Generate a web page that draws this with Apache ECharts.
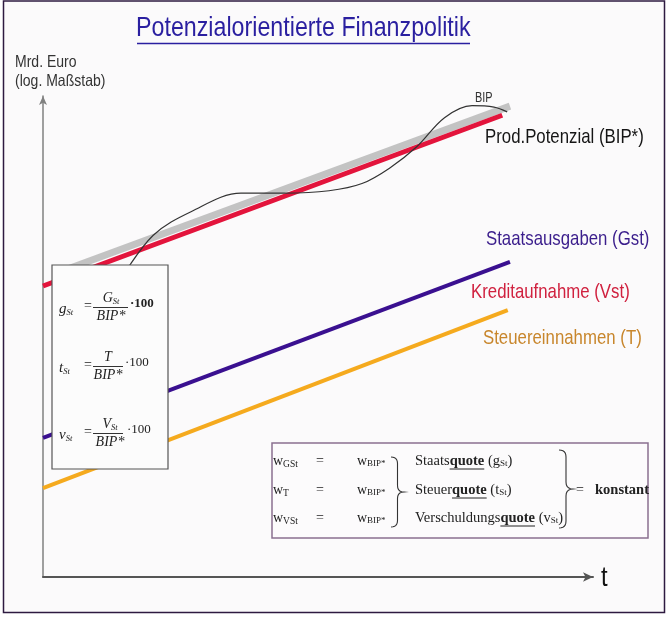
<!DOCTYPE html>
<html><head><meta charset="utf-8">
<script src="https://cdn.jsdelivr.net/npm/echarts@6/dist/echarts.min.js"></script>
<style>html,body{margin:0;padding:0;background:#fff}#c{width:668px;height:617px}</style>
</head><body><div id="c"></div>
<script>
// ---- data (time index 0..100, value index on log scale 0..100) ----
const trendBIP  = [[3, 63.4], [84.9, 97.9]];
const potential = [[0, 60.5], [83.5, 96.0]];
const spending  = [[0, 28.9], [84.9, 65.5]];
const taxes     = [[0, 18.5], [84.5, 55.5]];
const bip = [[14.0,61.7],[20.0,71.0],[27.0,76.0],[36.0,79.8],[44.0,79.8],[52.0,80.3],[58.0,81.8],[63.0,85.0],
  [68.0,89.5],[73.0,95.5],[78.0,98.0],[82.0,97.7],[84.4,96.7]];
const titleText = 'Potenzialorientierte Finanzpolitik';
const yAxisTitle = ['Mrd. Euro', '(log. Maßstab)'];
const xAxisTitle = 't';
const seriesLabels = ['Prod.Potenzial (BIP*)', 'Staatsausgaben (Gst)', 'Kreditaufnahme (Vst)', 'Steuereinnahmen (T)'];
const quoteSubs = ['GSt', 'T', 'VSt'];
const quotePrefix = ['Staats', 'Steuer', 'Verschuldungs'];
const quoteVar = ['g', 't', 'v'];

// ---- helpers ----
const SERIF = '"Liberation Serif","Times New Roman",serif';
const SANS = '"Liberation Sans",Arial,sans-serif';
const mctx = document.createElement('canvas').getContext('2d');
function fnt(size, style, weight, fam){ return (style||'normal')+' '+(weight||'normal')+' '+size+'px '+(fam||SERIF); }
function mw(t, font){ mctx.font = font; return mctx.measureText(t).width; }
const els = [];
function T(x, y, text, font, fill, z, extra){
  const e = {type:'text', x:x, y:y, z:z||50, silent:true,
    style:{text:text, x:0, y:0, font:font, fill:fill||'#222', textAlign:'left', textVerticalAlign:'middle', align:'left', verticalAlign:'middle'}};
  Object.assign(e, extra||{});
  els.push(e); return e;
}
function L(x1,y1,x2,y2,stroke,w,z){ els.push({type:'line', z:z||50, silent:true, shape:{x1,y1,x2,y2}, style:{stroke:stroke, lineWidth:w}}); }
function partsWidth(parts){ let w=0; for(const p of parts){ w+=mw(p.t, fnt(p.size,p.style,p.weight,p.fam)); } return w; }
function runs(x, y, parts, z){
  let cx = x;
  for(const p of parts){
    const f = fnt(p.size,p.style,p.weight,p.fam);
    T(cx, y+(p.dy||0), p.t, f, p.fill||'#222', z);
    const w = mw(p.t, f);
    if(p.u) L(cx, y+p.u, cx+w, y+p.u, '#222', 1, z);
    cx += w;
  }
  return cx;
}
function q(p0,c,p1,n){ const a=[]; for(let i=0;i<=n;i++){const t=i/n; a.push([(1-t)*(1-t)*p0[0]+2*(1-t)*t*c[0]+t*t*p1[0], (1-t)*(1-t)*p0[1]+2*(1-t)*t*c[1]+t*t*p1[1]]);} return a; }
function brace(x0,y0,y1,w,z){
  const m=(y0+y1)/2, h=w/2;
  const pts=[].concat(q([x0,y0],[x0+h,y0],[x0+h,y0+h],6), [[x0+h,m-h]], q([x0+h,m-h],[x0+h,m],[x0+w,m],5),
    q([x0+w,m],[x0+h,m],[x0+h,m+h],5), [[x0+h,y1-h]], q([x0+h,y1-h],[x0+h,y1],[x0,y1],6));
  els.push({type:'polyline', z:z, silent:true, shape:{points:pts}, style:{stroke:'#333', lineWidth:1.1, fill:null}});
}

// ---- frame & titles ----
els.push({type:'rect', z:-5, silent:true, shape:{x:3.5, y:1, width:661, height:611.5}, style:{fill:'#fbfafb', stroke:'#2e1a40', lineWidth:1.5}});
T(136, 28, titleText, fnt(28,null,null,SANS), '#2a1fa0', 5, {scaleX:0.83});
L(137, 43.5, 470, 43.5, '#2a1fa0', 1.5, 5);
T(15, 62, yAxisTitle[0], fnt(16.5,null,null,SANS), '#333', 5, {scaleX:0.85});
T(15, 81, yAxisTitle[1], fnt(16.5,null,null,SANS), '#333', 5, {scaleX:0.85});
T(601, 578, xAxisTitle, fnt(28,null,null,SANS), '#111', 5, {scaleX:0.85});
T(475, 98, 'BIP', fnt(14,null,null,SANS), '#333', 5, {scaleX:0.78});
T(485, 137, seriesLabels[0], fnt(21,null,null,SANS), '#151515', 5, {scaleX:0.8});
T(486, 239, seriesLabels[1], fnt(21,null,null,SANS), '#3b1e8c', 5, {scaleX:0.8});
T(471, 292, seriesLabels[2], fnt(21,null,null,SANS), '#d0213f', 5, {scaleX:0.8});
T(483, 338, seriesLabels[3], fnt(21,null,null,SANS), '#c8862c', 5, {scaleX:0.8});

// ---- formula box ----
const ZB = 100;
els.push({type:'rect', z:ZB, silent:true, shape:{x:52, y:265, width:116, height:204}, style:{fill:'#fcfcfc', stroke:'#555', lineWidth:1.2}});
function formula(Ly, lhs, num, cx, x1, x2, mulX, bold){
  runs(59, Ly+2, [{t:lhs,size:15,style:'italic'},{t:'St',size:8.5,style:'italic',dy:4}], ZB+1);
  T(84, Ly-1, '=', fnt(14), '#222', ZB+1);
  const nw = partsWidth(num);
  runs(cx-nw/2, Ly-9, num, ZB+1);
  L(x1, Ly+0.5, x2, Ly+0.5, '#333', 1, ZB+1);
  const dw = mw('BIP*', fnt(14,'italic'));
  T(cx-dw/2, Ly+9, 'BIP*', fnt(14,'italic'), '#222', ZB+1);
  T(mulX, Ly-3, '·100', fnt(13,null,bold?'bold':'normal'), '#222', ZB+1);
}
formula(307, 'g', [{t:'G',size:14,style:'italic'},{t:'St',size:8.5,style:'italic',dy:4}], 111, 93, 128, 130, true);
formula(366, 't', [{t:'T',size:14,style:'italic'}], 108, 93, 123, 125, false);
formula(433, 'v', [{t:'V',size:14,style:'italic'},{t:'St',size:8.5,style:'italic',dy:4}], 110, 93, 123, 127, false);

// ---- quote box ----
els.push({type:'rect', z:ZB, silent:true, shape:{x:272, y:443, width:376, height:95}, style:{fill:'#fcfbfc', stroke:'#8a7090', lineWidth:1.5}});
const rowsY = [461, 490, 518];
for(let i=0;i<3;i++){
  const y = rowsY[i];
  runs(273, y, [{t:'w',size:14},{t:quoteSubs[i],size:9.5,dy:3}], ZB+1);
  T(316, y, '=', fnt(14), '#222', ZB+1);
  runs(357, y, [{t:'w',size:14},{t:'BIP*',size:9,dy:3}], ZB+1);
  runs(415, y, [{t:quotePrefix[i],size:14.5},{t:'quote',size:14.5,weight:'bold',u:8},{t:' (',size:14.5},{t:quoteVar[i],size:14.5},{t:'St',size:9,dy:3},{t:')',size:14.5}], ZB+1);
}
brace(391, 457, 527, 13, ZB+1);
brace(559, 450, 528, 14, ZB+1);
T(576, 490, '=', fnt(14), '#222', ZB+1);
T(595, 490, 'konstant', fnt(14.5,null,'bold'), '#222', ZB+1);

// ---- chart ----
const chart = echarts.init(document.getElementById('c'), null, {renderer:'canvas'});
const hiddenAxis = {type:'value', min:0, max:100, axisTick:{show:false}, axisLabel:{show:false}, splitLine:{show:false}};
chart.setOption({
  animation:false,
  backgroundColor:'#ffffff',
  grid:{left:43, right:75, top:96, bottom:40, containLabel:false, outerBoundsMode:'none'},
  xAxis:Object.assign({}, hiddenAxis, {axisLine:{show:true, onZero:false, symbol:['none','arrow'], symbolSize:[7,10], lineStyle:{color:'#555', width:2}}}),
  yAxis:Object.assign({}, hiddenAxis, {axisLine:{show:true, onZero:false, symbol:['none','arrow'], symbolSize:[6,9], lineStyle:{color:'#808080', width:1.5}}}),
  series:[
    {name:'BIP-Trend', type:'line', data:trendBIP, symbol:'none', silent:true, z:2, lineStyle:{color:'#c3c3c3', width:7}},
    {name:seriesLabels[0], type:'line', data:potential, symbol:'none', silent:true, z:3, lineStyle:{color:'#e3143c', width:5}},
    {name:seriesLabels[1], type:'line', data:spending, symbol:'none', silent:true, z:3, lineStyle:{color:'#3a1090', width:4}},
    {name:seriesLabels[3], type:'line', data:taxes, symbol:'none', silent:true, z:3, lineStyle:{color:'#f5aa1e', width:4}},
    {name:'BIP', type:'line', data:bip, symbol:'none', silent:true, z:4, smooth:0.35, lineStyle:{color:'#333', width:1.2}}
  ],
  graphic:{elements:els}
});
</script>
</body></html>
